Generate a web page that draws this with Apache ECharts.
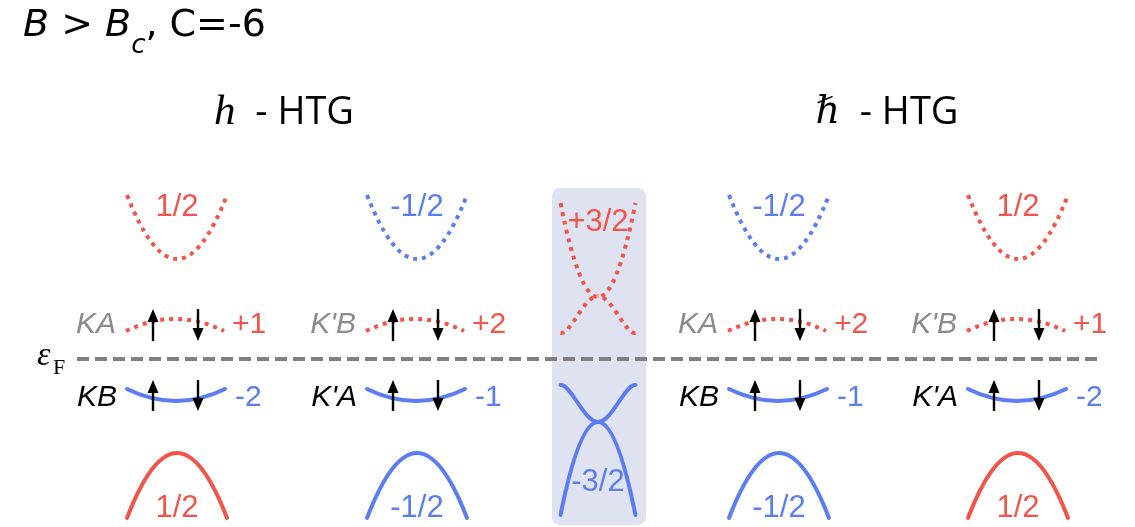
<!DOCTYPE html>
<html><head><meta charset="utf-8">
<script src="https://cdn.jsdelivr.net/npm/echarts@6/dist/echarts.min.js"></script>
<style>html,body{margin:0;padding:0;background:#fff}#c{width:1135px;height:527px}</style>
</head><body><div id="c"></div>
<script>
// ---------------- data ----------------
const columns        = ['h-HTG K', "h-HTG K'", 'transition', 'ℏ-HTG K', "ℏ-HTG K'"];
const topBandIndex   = ['1/2', '-1/2', '+3/2', '-1/2', '1/2'];
const bottomBandIndex= ['1/2', '-1/2', '-3/2', '-1/2', '1/2'];
const upperValley    = ['KA', "K'B", '', 'KA', "K'B"];
const lowerValley    = ['KB', "K'A", '', 'KB', "K'A"];
const upperChern     = ['+1', '+2', '', '+2', '+1'];
const lowerChern     = ['-2', '-1', '', '-1', '-2'];
const spins          = ['up', 'down'];
const panelTitles    = ['h', 'ℏ'];
const mainTitle      = ['B', 'c', '-6'];

// ---------------- layout / style ----------------
const RED = '#f4534a', BLUE = '#5b7cf3', GRAY = '#8b8b8b', DASH = '#808080', BOX = '#dfe3f1';
const colorOf = s => s.trim().startsWith('-') ? BLUE : RED;
const colK = [177, 417, 598, 779, 1018];     // column centres on the k axis
const HALF = 50, FLAT_HALF = 49, MID_HALF = 37.5;
const Ev = { topV: 100, topE: 164, upV: 40, upE: 28, loV: -42, loE: -30, botV: -94, botE: -159 };
const SANS = "'Liberation Sans', Arial, sans-serif";
const TSANS = "'Open Sans', sans-serif";
const dotted = c => ({ stroke: c, lineWidth: 4, lineDash: [4, 5], fill: 'none', lineCap: 'butt' });
const solid  = c => ({ stroke: c, lineWidth: 4, fill: 'none', lineCap: 'round' });

function quad(api, cx, w, vE, eE, style) {
  const p0 = api.coord([cx - w, eE]), p1 = api.coord([cx, 2 * vE - eE]), p2 = api.coord([cx + w, eE]);
  return { type: 'bezierCurve', shape: { x1: p0[0], y1: p0[1], x2: p2[0], y2: p2[1], cpx1: p1[0], cpy1: p1[1] }, style };
}
function cubic(api, a, c1, c2, b, style) {
  const p0 = api.coord(a), q1 = api.coord(c1), q2 = api.coord(c2), p3 = api.coord(b);
  return { type: 'bezierCurve', shape: { x1: p0[0], y1: p0[1], x2: p3[0], y2: p3[1], cpx1: q1[0], cpy1: q1[1], cpx2: q2[0], cpy2: q2[1] }, style };
}
function sCurve(api, cx, endE, midE, style) {
  const d = midE - endE;
  return { type: 'group', children: [
    cubic(api, [cx - MID_HALF, endE], [cx - MID_HALF + 10, endE - d * 0.05], [cx - 14, midE], [cx, midE], style),
    cubic(api, [cx + MID_HALF, endE], [cx + MID_HALF - 10, endE - d * 0.05], [cx + 14, midE], [cx, midE], style)
  ]};
}

const bandItems = [];
columns.forEach((c, i) => { for (let k = 0; k < 4; k++) bandItems.push([i, k]); });

function renderBand(params, api) {
  const i = api.value(0), kind = api.value(1), cx = colK[i];
  if (i === 2) {
    if (kind === 0) return quad(api, cx, MID_HALF, 62, 156, dotted(colorOf(topBandIndex[i])));
    if (kind === 1) return sCurve(api, cx, 26, 63, dotted(RED));
    if (kind === 2) return sCurve(api, cx, -26, -63, solid(BLUE));
    return quad(api, cx, MID_HALF, -63, -156, solid(colorOf(bottomBandIndex[i])));
  }
  if (kind === 0) return quad(api, cx, HALF, Ev.topV, Ev.topE, dotted(colorOf(topBandIndex[i])));
  if (kind === 1) return quad(api, cx - 2, FLAT_HALF, Ev.upV, Ev.upE, dotted(colorOf(upperChern[i])));
  if (kind === 2) return quad(api, cx - 1, FLAT_HALF, Ev.loV, Ev.loE, solid(colorOf(lowerChern[i])));
  return quad(api, cx, HALF, Ev.botV, Ev.botE, solid(colorOf(bottomBandIndex[i])));
}

const arrowItems = [];
columns.forEach((c, i) => { if (!upperValley[i]) return; [0, 1].forEach(r => spins.forEach((s, j) => arrowItems.push([i, r, j]))); });
function renderArrow(params, api) {
  const i = api.value(0), r = api.value(1), j = api.value(2);
  const k = colK[i] + (j === 0 ? -24 : 21);
  const lo = r === 0 ? 18 : -52, hi = r === 0 ? 50 : -21;
  const a = api.coord([k, lo]), b = api.coord([k, hi]);
  const up = spins[j] === 'up';
  const hl = 13, hw = 5.5;
  const tip = up ? b : a, base = up ? a : b;
  const sgn = up ? 1 : -1;
  return { type: 'group', children: [
    { type: 'line', shape: { x1: base[0], y1: base[1], x2: tip[0], y2: tip[1] + sgn * (hl - 2) }, style: { stroke: '#000', lineWidth: 2.4 } },
    { type: 'polygon', shape: { points: [[tip[0], tip[1]], [tip[0] - hw, tip[1] + sgn * hl], [tip[0] + hw, tip[1] + sgn * hl]] }, style: { fill: '#000' } }
  ]};
}

const labels = [];
columns.forEach((c, i) => {
  const cx = colK[i];
  labels.push({ t: topBandIndex[i], k: cx, e: i === 2 ? 137 : 152, c: colorOf(topBandIndex[i]), s: 31, al: 'center' });
  labels.push({ t: bottomBandIndex[i], k: cx, e: i === 2 ? -123 : -149, c: colorOf(bottomBandIndex[i]), s: 31, al: 'center' });
  if (upperValley[i]) {
    labels.push({ t: upperValley[i], k: cx - 61, e: 34, c: GRAY, s: 30, al: 'right', it: true });
    labels.push({ t: lowerValley[i], k: cx - 60, e: -39, c: '#000', s: 30, al: 'right', it: true });
    labels.push({ t: upperChern[i], k: cx + 55, e: 34, c: colorOf(upperChern[i]), s: 30, al: 'left' });
    labels.push({ t: lowerChern[i], k: cx + 58, e: -39, c: colorOf(lowerChern[i]), s: 30, al: 'left' });
  }
});
function renderLabel(params, api) {
  const L = labels[params.dataIndex];
  const p = api.coord([L.k, L.e]);
  return { type: 'text', x: p[0], y: p[1], style: { text: L.t, fill: L.c, fontSize: L.s, fontFamily: SANS, fontStyle: L.it ? 'italic' : 'normal', align: L.al, verticalAlign: 'middle' } };
}

function renderBox(params, api) {
  const a = api.coord([552, 171]), b = api.coord([646, -166]);
  return { type: 'rect', shape: { x: a[0], y: a[1], width: b[0] - a[0], height: b[1] - a[1], r: 8 }, style: { fill: BOX } };
}

const TF = "'DejaVu Sans', sans-serif";
const chart = echarts.init(document.getElementById('c'), null, { renderer: 'canvas' });
chart.setOption({
  animation: false,
  grid: { left: 0, right: 0, top: 0, bottom: 0 },
  xAxis: { type: 'value', min: 0, max: 1135, show: false },
  yAxis: { type: 'value', min: -168, max: 359, show: false },
  graphic: [
    { type: 'text', left: 23, top: 7, style: {
      text: '{bi|' + mainTitle[0] + '}{n| > }{bi|' + mainTitle[0] + '}{sub|' + mainTitle[1] + '}{n|, C=' + mainTitle[2] + '}',
      rich: {
        bi: { fontSize: 38, fontStyle: 'italic', fontFamily: TF, fill: '#000', lineHeight: 46, verticalAlign: 'top' },
        n:  { fontSize: 38, fontFamily: TF, fill: '#000', lineHeight: 46, verticalAlign: 'top' },
        sub:{ fontSize: 26, fontStyle: 'italic', fontFamily: TF, fill: '#000', lineHeight: 52, verticalAlign: 'bottom' }
      } } },
    { type: 'text', x: 284, y: 113, style: {
      text: '{m|' + panelTitles[0] + '}{n|  - HTG}', align: 'center', verticalAlign: 'middle',
      rich: { m: { fontSize: 43, fontStyle: 'italic', fontFamily: "'Liberation Serif','DejaVu Serif'", fill: '#000' },
              n: { fontSize: 38, fontFamily: TSANS, fill: '#000' } } } },
    { type: 'text', x: 887, y: 113, style: {
      text: '{m|' + panelTitles[1] + '}{n|  - HTG}', align: 'center', verticalAlign: 'middle',
      rich: { m: { fontSize: 38, fontStyle: 'italic', fontFamily: "'DejaVu Serif','Liberation Serif'", fill: '#000' },
              n: { fontSize: 38, fontFamily: TSANS, fill: '#000' } } } },
    { type: 'text', x: 37, y: 356, style: { text: 'ε', fontSize: 34, fontStyle: 'italic', fontFamily: "'Liberation Serif','DejaVu Serif'", fill: '#000', verticalAlign: 'middle' } },
    { type: 'text', x: 53, y: 368, style: { text: 'F', fontSize: 22, fontFamily: "'Liberation Serif','DejaVu Serif'", fill: '#000', verticalAlign: 'middle' } }
  ],
  series: [
    { type: 'custom', name: 'box', data: [[0]], renderItem: renderBox, z: 1, silent: true },
    { type: 'line', name: 'fermi', data: [[77, 0], [1098, 0]], symbol: 'none', z: 3, silent: true,
      lineStyle: { color: DASH, width: 4, type: [12, 6] } },
    { type: 'custom', name: 'bands', data: bandItems, renderItem: renderBand, z: 4, silent: true },
    { type: 'custom', name: 'spins', data: arrowItems, renderItem: renderArrow, z: 5, silent: true },
    { type: 'custom', name: 'labels', data: labels.map((l, i) => [i]), renderItem: renderLabel, z: 6, silent: true }
  ]
});
</script></body></html>
